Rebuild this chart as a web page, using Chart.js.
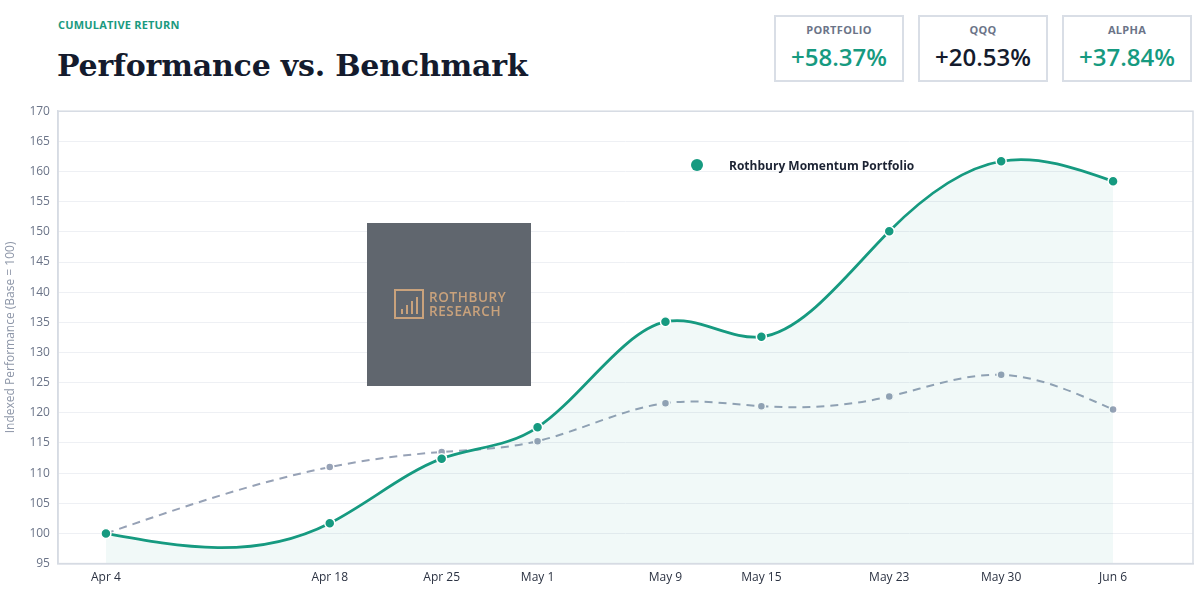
<!DOCTYPE html>
<html>
<head>
<meta charset="utf-8">
<script src="https://cdn.jsdelivr.net/npm/chart.js@4.4.1/dist/chart.umd.min.js"></script>
<style>
  html, body { margin: 0; padding: 0; background: #fff; }
  body { width: 1200px; height: 590px; position: relative; overflow: hidden; font-family: "Open Sans", "Noto Sans", sans-serif; }
  .kicker { position: absolute; left: 58px; top: 17px; font-size: 11px; font-weight: 700; color: #1a9a80; letter-spacing: 0.2px; }
  .title { position: absolute; left: 57px; top: 51px; line-height: 30px; font-family: "DejaVu Serif", serif; font-weight: 700; font-size: 30px; color: #141b2d; letter-spacing: -0.2px; }
  .stat { position: absolute; top: 15px; width: 126px; height: 63px; border: 2px solid #d9dee6; text-align: center; }
  .stat .lbl { margin-top: 5px; font-size: 11px; font-weight: 700; color: #6b7488; letter-spacing: 0.3px; }
  .stat .val { margin-top: 3px; font-size: 24px; font-weight: 600; }
  #wrap { position: absolute; left: 0; top: 96px; width: 1200px; height: 496px; }
  .legend { position: absolute; left: 691px; top: 157px; font-size: 12px; font-weight: 700; color: #1c2333; }
  .legend .dot { position: absolute; left: 0; top: 2px; width: 12px; height: 12px; border-radius: 50%; background: #169a80; }
  .legend span.t { position: absolute; left: 38px; top: 0; white-space: nowrap; }
  .logo { position: absolute; left: 367px; top: 223px; width: 164px; height: 163px; background: rgba(90,96,104,0.96); }
  .logo svg { position: absolute; left: 27px; top: 66px; }
  .logo .txt { position: absolute; left: 62px; top: 67px; color: #c9a27c; font-size: 13.5px; font-weight: 600; line-height: 14px; letter-spacing: 0.6px; }
</style>
</head>
<body>
<div class="kicker">CUMULATIVE RETURN</div>
<div class="title">Performance vs. Benchmark</div>
<div class="stat" style="left:774px"><div class="lbl">PORTFOLIO</div><div class="val" style="color:#169a80">+58.37%</div></div>
<div class="stat" style="left:918px"><div class="lbl">QQQ</div><div class="val" style="color:#141b2d">+20.53%</div></div>
<div class="stat" style="left:1062px"><div class="lbl">ALPHA</div><div class="val" style="color:#169a80">+37.84%</div></div>

<div id="wrap"><canvas id="chart1"></canvas></div>

<div class="legend"><div class="dot"></div><span class="t">Rothbury Momentum Portfolio</span></div>
<div class="logo">
  <svg width="30" height="30" viewBox="0 0 30 30">
    <rect x="1" y="1" width="28" height="28" fill="none" stroke="#c9a27c" stroke-width="2"/>
    <line x1="8" y1="25" x2="8" y2="20" stroke="#c9a27c" stroke-width="2"/>
    <line x1="13" y1="25" x2="13" y2="16" stroke="#c9a27c" stroke-width="2"/>
    <line x1="18" y1="25" x2="18" y2="12" stroke="#c9a27c" stroke-width="2"/>
    <line x1="23" y1="25" x2="23" y2="8" stroke="#c9a27c" stroke-width="2"/>
  </svg>
  <div class="txt">ROTHBURY<br>RESEARCH</div>
</div>

<script>
const dateLabels = ['Apr 4', 'Apr 18', 'Apr 25', 'May 1', 'May 9', 'May 15', 'May 23', 'May 30', 'Jun 6'];
const dayOffsets = [0, 14, 21, 27, 35, 41, 49, 56, 63];
const portfolio = [100, 101.7, 112.4, 117.6, 135.1, 132.6, 150.1, 161.7, 158.37];
const qqq = [100, 111.0, 113.5, 115.3, 121.6, 121.1, 122.7, 126.3, 120.53];
const yTicks = [95, 100, 105, 110, 115, 120, 125, 130, 135, 140, 145, 150, 155, 160, 165, 170];

const teal = '#169a80';
const slate = '#97a2b6';

// natural cubic spline slopes through the (pixel) points
function naturalSlopes(xs, ys) {
    const n = xs.length;
    const h = [], s = [];
    for (let i = 0; i < n - 1; i++) {
        h.push(xs[i + 1] - xs[i]);
        s.push((ys[i + 1] - ys[i]) / h[i]);
    }
    const a = new Array(n).fill(0), b = new Array(n).fill(0), c = new Array(n).fill(0), d = new Array(n).fill(0);
    b[0] = 2; c[0] = 1; d[0] = 3 * s[0];
    for (let i = 1; i < n - 1; i++) {
        a[i] = h[i];
        b[i] = 2 * (h[i - 1] + h[i]);
        c[i] = h[i - 1];
        d[i] = 3 * (h[i] * s[i - 1] + h[i - 1] * s[i]);
    }
    a[n - 1] = 1; b[n - 1] = 2; d[n - 1] = 3 * s[n - 2];
    for (let i = 1; i < n; i++) {
        const w = a[i] / b[i - 1];
        b[i] -= w * c[i - 1];
        d[i] -= w * d[i - 1];
    }
    const m = new Array(n);
    m[n - 1] = d[n - 1] / b[n - 1];
    for (let i = n - 2; i >= 0; i--) m[i] = (d[i] - c[i] * m[i + 1]) / b[i];
    return { m, h };
}

const splineCurve = {
    id: 'splineCurve',
    afterDatasetsUpdate(chart) {
        chart.data.datasets.forEach((ds, i) => {
            const meta = chart.getDatasetMeta(i);
            const pts = meta.data;
            if (!meta.dataset || pts.length < 3) return;
            meta.dataset.updateControlPoints(chart.chartArea, 'x');
            const { m, h } = naturalSlopes(pts.map(p => p.x), pts.map(p => p.y));
            pts.forEach((p, k) => {
                const hl = k > 0 ? h[k - 1] / 3 : 0;
                const hr = k < h.length ? h[k] / 3 : 0;
                p.cp1x = p.x - hl; p.cp1y = p.y - m[k] * hl;
                p.cp2x = p.x + hr; p.cp2y = p.y + m[k] * hr;
            });
        });
    }
};

const frameBox = {
    id: 'frameBox',
    afterDraw(chart) {
        const a = chart.chartArea, c = chart.ctx;
        c.save();
        c.strokeStyle = '#d6dbe3';
        c.lineWidth = 1.5;
        c.strokeRect(a.left, a.top, a.right - a.left, a.bottom - a.top);
        c.restore();
    }
};

const ctx1 = document.getElementById('chart1').getContext('2d');
const chart1 = new Chart(ctx1, {
    type: 'line',
    data: {
        datasets: [{
            label: 'Rothbury Momentum Portfolio',
            data: dayOffsets.map((d, i) => ({ x: d, y: portfolio[i] })),
            borderColor: teal,
            backgroundColor: 'rgba(22, 154, 128, 0.06)',
            pointBackgroundColor: teal,
            pointBorderColor: '#ffffff',
            pointBorderWidth: 1.5,
            pointRadius: 5,
            borderWidth: 2.75,
            tension: 0.4,
            fill: 'start',
            order: 1
        }, {
            label: 'QQQ',
            data: dayOffsets.map((d, i) => ({ x: d, y: qqq[i] })),
            borderColor: slate,
            backgroundColor: slate,
            pointBackgroundColor: slate,
            pointBorderColor: '#ffffff',
            pointBorderWidth: 1.5,
            pointRadius: 4,
            borderWidth: 2,
            borderDash: [8, 6],
            tension: 0.4,
            fill: false,
            order: 2
        }]
    },
    options: {
        responsive: true,
        maintainAspectRatio: false,
        animation: false,
        layout: { padding: { top: 11, right: 7, left: 3, bottom: 0 } },
        plugins: {
            legend: { display: false },
            tooltip: { enabled: false }
        },
        scales: {
            x: {
                type: 'linear',
                min: -3,
                max: 68,
                afterBuildTicks: axis => { axis.ticks = dayOffsets.map(v => ({ value: v })); },
                ticks: {
                    autoSkip: false,
                    maxRotation: 0,
                    padding: 7,
                    color: '#2b3242',
                    font: { family: 'Open Sans', size: 12 },
                    callback: v => dateLabels[dayOffsets.indexOf(v)]
                },
                grid: { display: false, drawTicks: false },
                border: { color: '#d6dbe3', width: 1.5 }
            },
            y: {
                min: 95,
                max: 170,
                afterBuildTicks: axis => { axis.ticks = yTicks.map(v => ({ value: v })); },
                ticks: {
                    padding: 8,
                    color: '#6b7488',
                    font: { family: 'Open Sans', size: 12 }
                },
                grid: { color: '#eef0f4', drawTicks: false },
                border: { color: '#d6dbe3', width: 1.5 },
                title: {
                    display: true,
                    text: 'Indexed Performance (Base = 100)',
                    color: '#8d96a8',
                    font: { family: 'Open Sans', size: 12 },
                    padding: { top: 0, bottom: 4 }
                }
            }
        }
    },
    plugins: [splineCurve, frameBox]
});
</script>
</body>
</html>
